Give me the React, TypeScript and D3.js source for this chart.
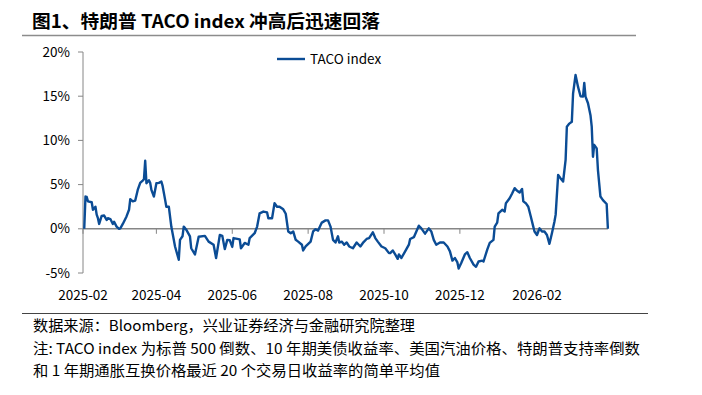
import React from 'react';
import * as d3 from 'd3';

// TACO index
const dates = [
  '2025-02-02', '2025-02-03', '2025-02-04', '2025-02-05', '2025-02-08', '2025-02-09', '2025-02-11', '2025-02-12',
  '2025-02-13', '2025-02-14', '2025-02-16', '2025-02-18', '2025-02-20', '2025-02-21', '2025-02-23', '2025-02-25',
  '2025-02-26', '2025-02-28', '2025-03-02', '2025-03-03', '2025-03-05', '2025-03-08', '2025-03-10', '2025-03-11',
  '2025-03-13', '2025-03-15', '2025-03-17', '2025-03-19', '2025-03-21', '2025-03-22', '2025-03-23', '2025-03-24',
  '2025-03-26', '2025-03-27', '2025-03-28', '2025-03-30', '2025-04-01', '2025-04-03', '2025-04-05', '2025-04-06',
  '2025-04-08', '2025-04-09', '2025-04-11', '2025-04-13', '2025-04-16', '2025-04-19', '2025-04-20', '2025-04-22',
  '2025-04-23', '2025-04-25', '2025-04-28', '2025-04-29', '2025-05-02', '2025-05-05', '2025-05-10', '2025-05-13',
  '2025-05-17', '2025-05-19', '2025-05-22', '2025-05-24', '2025-05-26', '2025-05-28', '2025-05-30', '2025-06-01',
  '2025-06-02', '2025-06-07', '2025-06-08', '2025-06-11', '2025-06-14', '2025-06-15', '2025-06-19', '2025-06-21',
  '2025-06-23', '2025-06-26', '2025-06-29', '2025-06-30', '2025-07-03', '2025-07-05', '2025-07-07', '2025-07-09',
  '2025-07-12', '2025-07-14', '2025-07-16', '2025-07-18', '2025-07-20', '2025-07-22', '2025-07-24', '2025-07-27',
  '2025-07-28', '2025-07-30', '2025-08-03', '2025-08-05', '2025-08-07', '2025-08-09', '2025-08-12', '2025-08-15',
  '2025-08-17', '2025-08-19', '2025-08-21', '2025-08-23', '2025-08-25', '2025-08-26', '2025-08-28', '2025-08-30',
  '2025-09-01', '2025-09-03', '2025-09-06', '2025-09-09', '2025-09-12', '2025-09-14', '2025-09-17', '2025-09-19',
  '2025-09-22', '2025-09-24', '2025-09-26', '2025-09-29', '2025-10-02', '2025-10-05', '2025-10-06', '2025-10-08',
  '2025-10-10', '2025-10-12', '2025-10-13', '2025-10-15', '2025-10-18', '2025-10-21', '2025-10-22', '2025-10-25',
  '2025-10-27', '2025-10-29', '2025-10-31', '2025-11-03', '2025-11-06', '2025-11-08', '2025-11-10', '2025-11-12',
  '2025-11-15', '2025-11-18', '2025-11-21', '2025-11-23', '2025-11-25', '2025-11-27', '2025-11-29', '2025-11-30',
  '2025-12-02', '2025-12-05', '2025-12-07', '2025-12-09', '2025-12-12', '2025-12-14', '2025-12-16', '2025-12-19',
  '2025-12-20', '2025-12-23', '2025-12-25', '2025-12-28', '2025-12-29', '2025-12-31', '2026-01-01', '2026-01-04',
  '2026-01-06', '2026-01-07', '2026-01-10', '2026-01-12', '2026-01-14', '2026-01-16', '2026-01-18', '2026-01-20',
  '2026-01-21', '2026-01-23', '2026-01-25', '2026-01-27', '2026-01-29', '2026-01-30', '2026-02-01', '2026-02-03',
  '2026-02-05', '2026-02-07', '2026-02-09', '2026-02-11', '2026-02-13', '2026-02-15', '2026-02-16', '2026-02-18',
  '2026-02-20', '2026-02-22', '2026-02-24', '2026-02-25', '2026-02-27', '2026-03-01', '2026-03-02', '2026-03-04',
  '2026-03-06', '2026-03-08', '2026-03-10', '2026-03-11', '2026-03-12', '2026-03-14', '2026-03-16', '2026-03-17',
  '2026-03-18', '2026-03-19', '2026-03-21', '2026-03-22', '2026-03-24', '2026-03-26', '2026-03-29', '2026-03-30',
];

const tacoValues = [
  0, 3.65, 3.6, 3.1, 3.0, 2.15, 2.5, 1.6,
  1.2, 0.55, 1.45, 1.5, 1.0, 1.2, 1.1, 0.55,
  0.8, 0.25, 0, 0.05, 0.55, 1.4, 2.15, 3.35,
  3.1, 3.2, 4.4, 5.2, 5.45, 5.6, 7.7, 5.15,
  5.5, 5.2, 4.4, 3.65, 5.15, 5.2, 5.35, 4.85,
  3.3, 2.5, 2.5, 0.25, -2.0, -3.5, -1.25, -0.85,
  0.25, -0.1, -0.85, -2.2, -2.9, -0.9, -0.8, -1.45,
  -1.8, -3.3, -0.7, -0.8, -2.3, -1.25, -1.3, -2.05,
  -1.05, -1.2, -2.2, -1.6, -1.8, -1.05, -0.5, 0.25,
  1.75, 1.95, 1.85, 1.2, 1.2, 2.9, 2.5, 2.5,
  2.2, 1.7, -0.3, -0.5, -0.3, -1.25, -1.45, -1.8,
  -2.45, -2.0, -1.45, -0.3, -0.05, -0.2, 0.7, 0.95,
  0.95, 0.25, -1.25, -1.55, -0.85, -1.55, -1.45, -1.8,
  -1.55, -2.0, -2.2, -1.55, -2.0, -1.6, -1.15, -1.05,
  -0.4, -1.05, -1.45, -2.0, -2.2, -2.75, -2.75, -2.45,
  -2.9, -3.4, -2.9, -3.3, -2.55, -1.8, -1.15, -0.95,
  -0.3, 0.35, 0.05, -0.55, 0.05, -0.3, -1.25, -1.8,
  -1.55, -1.55, -2.0, -2.55, -3.6, -3.3, -3.8, -4.5,
  -3.9, -2.9, -2.65, -3.3, -4.05, -4.3, -3.7, -3.6,
  -3.7, -2.35, -1.6, -1.25, 0.25, 0.7, 1.75, 2.15,
  1.95, 2.9, 3.45, 4.0, 4.6, 4.3, 4.1, 4.5,
  3.1, 2.9, 2.5, 1.4, 0.25, -0.3, -0.7, 0.05,
  -0.3, -0.3, -0.7, -1.7, -0.5, 0.8, 1.6, 6.1,
  5.7, 5.35, 7.8, 11.55, 11.9, 12.1, 15.3, 17.4,
  16.05, 15.0, 14.95, 16.5, 14.95, 14.2, 12.85, 11.55,
  8.15, 9.5, 9.1, 6.65, 3.65, 3.25, 2.8, 0,
];

const yTicks = [-5, 0, 5, 10, 15, 20];
const xTickDates = ['2025-02-01', '2025-04-01', '2025-06-01', '2025-08-01', '2025-10-01', '2025-12-01', '2026-02-01'];

const title = '图1、特朗普 TACO index 冲高后迅速回落';
const seriesName = 'TACO index';
const footnotes = [
  '数据来源：Bloomberg，兴业证券经济与金融研究院整理',
  '注: TACO index 为标普 500 倒数、10 年期美债收益率、美国汽油价格、特朗普支持率倒数',
  '和 1 年期通胀互换价格最近 20 个交易日收益率的简单平均值',
];
// widths the footnote lines take in the picture
const footnoteWidths = [382, 607, 407];

const parse = d3.timeParse('%Y-%m-%d');
const fmt = d3.timeFormat('%Y-%m');

const W = 702;
const H = 395;
const FONT = '"Noto Sans CJK SC", "Noto Sans", sans-serif';

export default function App() {
  const data = dates.map((d, i) => ({ date: parse(d) as Date, value: tacoValues[i] }));

  // 2025-02-01 .. 2026-02-01 spans 454px
  const x = d3.scaleTime()
    .domain([parse('2025-02-01') as Date, parse('2026-02-01') as Date])
    .range([83, 537]);
  const y = d3.scaleLinear().domain([-5, 20]).range([273, 52]);

  const line = d3.line<{ date: Date; value: number }>()
    .x(d => x(d.date))
    .y(d => y(d.value));

  const xEnd = x(data[data.length - 1].date);
  const axisColor = '#868686';
  const blue = '#0b4c95';

  return (
    <svg width={W} height={H} style={{ position: 'absolute', left: 0, top: 0, background: '#fff' }}>
      <text x={32} y={27.5} fontFamily={FONT} fontSize={18} fontWeight="bold" fill="#000"
        textLength={348} lengthAdjust="spacingAndGlyphs">{title}</text>
      <line x1={22} x2={636} y1={35.5} y2={35.5} stroke="#8c8c8c" strokeWidth={1.5} />

      {/* y axis */}
      <line x1={83} x2={83} y1={y(20)} y2={y(-5)} stroke={axisColor} strokeWidth={1} />
      {yTicks.map(t => (
        <g key={t}>
          <line x1={78} x2={83} y1={y(t)} y2={y(t)} stroke={axisColor} strokeWidth={1} />
          <text x={70} y={y(t) + 4.5} textAnchor="end" fontFamily={FONT} fontSize={13.5} fill="#000">{t}%</text>
        </g>
      ))}

      {/* x axis at zero */}
      <line x1={83} x2={xEnd} y1={y(0)} y2={y(0)} stroke={axisColor} strokeWidth={1.6} />
      {xTickDates.map(s => {
        const d = parse(s) as Date;
        return (
          <g key={s}>
            <line x1={x(d)} x2={x(d)} y1={y(0)} y2={y(0) + 5} stroke={axisColor} strokeWidth={1} />
            <text x={x(d)} y={300} textAnchor="middle" fontFamily={FONT} fontSize={13.5} fill="#000">{fmt(d)}</text>
          </g>
        );
      })}

      <path d={line(data) ?? ''} fill="none" stroke={blue} strokeWidth={2.4} strokeLinejoin="round" />

      {/* legend */}
      <line x1={277} x2={305} y1={59} y2={59} stroke={blue} strokeWidth={2.4} />
      <text x={310} y={64} fontFamily={FONT} fontSize={13.5} fill="#000">{seriesName}</text>

      <line x1={22} x2={648} y1={313.5} y2={313.5} stroke="#444" strokeWidth={1} />
      {footnotes.map((t, i) => (
        <text key={i} x={33} y={331 + i * 22.5} fontFamily={FONT} fontSize={14.5} fill="#000"
          textLength={footnoteWidths[i]} lengthAdjust="spacingAndGlyphs">{t}</text>
      ))}
    </svg>
  );
}
